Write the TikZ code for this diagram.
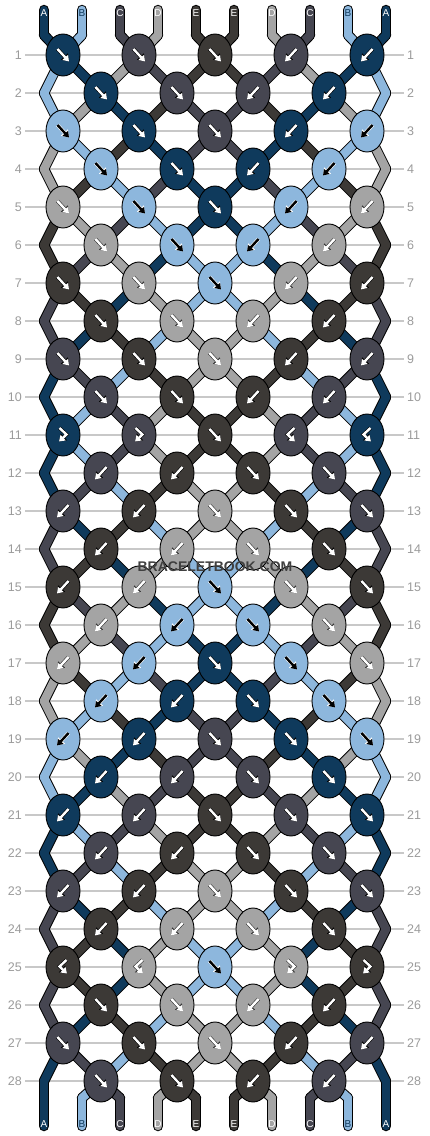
\documentclass[tikz,border=0pt]{standalone}
\usepackage{fontspec}
\setmainfont{Liberation Sans}
\usetikzlibrary{shapes.geometric,arrows.meta}

\definecolor{strA}{HTML}{0F3A5C}
\definecolor{strB}{HTML}{8DB7DD}
\definecolor{strC}{HTML}{464651}
\definecolor{strD}{HTML}{A4A4A4}
\definecolor{strE}{HTML}{3C3936}
\definecolor{numgrey}{HTML}{9B9B9B}
\definecolor{linegrey}{HTML}{C8C8C8}
\definecolor{wmgrey}{HTML}{404040}
\colorlet{fgA}{white}\colorlet{bgA}{black}
\colorlet{fgB}{black}\colorlet{bgB}{white}
\colorlet{fgC}{white}\colorlet{bgC}{black}
\colorlet{fgD}{white}\colorlet{bgD}{black!80}
\colorlet{fgE}{white}\colorlet{bgE}{black}
\colorlet{tagA}{white}\colorlet{tagB}{strA}\colorlet{tagC}{white}
\colorlet{tagD}{white}\colorlet{tagE}{white}

\pgfdeclarelayer{grid}
\pgfdeclarelayer{strands}
\pgfsetlayers{grid,strands,main}

% strand colours after each row (row 0 = start)
\def\strandrows{%
  {A,B,C,D,E,E,D,C,B,A},%
  {B,A,D,C,E,E,C,D,A,B},%
  {B,D,A,E,C,C,E,A,D,B},%
  {D,B,E,A,C,C,A,E,B,D},%
  {D,E,B,C,A,A,C,B,E,D},%
  {E,D,C,B,A,A,B,C,D,E},%
  {E,C,D,A,B,B,A,D,C,E},%
  {C,E,A,D,B,B,D,A,E,C},%
  {C,A,E,B,D,D,B,E,A,C},%
  {A,C,B,E,D,D,E,B,C,A},%
  {A,B,C,D,E,E,D,C,B,A},%
  {A,B,C,D,E,E,D,C,B,A},%
  {A,C,B,E,D,D,E,B,C,A},%
  {C,A,E,B,D,D,B,E,A,C},%
  {C,E,A,D,B,B,D,A,E,C},%
  {E,C,D,A,B,B,A,D,C,E},%
  {E,D,C,B,A,A,B,C,D,E},%
  {D,E,B,C,A,A,C,B,E,D},%
  {D,B,E,A,C,C,A,E,B,D},%
  {B,D,A,E,C,C,E,A,D,B},%
  {B,A,D,C,E,E,C,D,A,B},%
  {A,B,C,D,E,E,D,C,B,A},%
  {A,C,B,E,D,D,E,B,C,A},%
  {C,A,E,B,D,D,B,E,A,C},%
  {C,E,A,D,B,B,D,A,E,C},%
  {C,E,A,D,B,B,D,A,E,C},%
  {C,A,E,B,D,D,B,E,A,C},%
  {A,C,B,E,D,D,E,B,C,A},%
  {A,B,C,D,E,E,D,C,B,A}}

% knot colour / knot type per row
\def\knotrows{%
  {A/f,C/f,E/f,C/b,A/b},%
  {A/f,C/f,C/b,A/b},%
  {B/f,A/f,C/f,A/b,B/b},%
  {B/f,A/f,A/b,B/b},%
  {D/f,B/f,A/f,B/b,D/b},%
  {D/f,B/f,B/b,D/b},%
  {E/f,D/f,B/f,D/b,E/b},%
  {E/f,D/f,D/b,E/b},%
  {C/f,E/f,D/f,E/b,C/b},%
  {C/f,E/f,E/b,C/b},%
  {A/fb,C/fb,E/f,C/bf,A/bf},%
  {C/b,E/b,E/f,C/f},%
  {C/b,E/b,D/f,E/f,C/f},%
  {E/b,D/b,D/f,E/f},%
  {E/b,D/b,B/f,D/f,E/f},%
  {D/b,B/b,B/f,D/f},%
  {D/b,B/b,A/f,B/f,D/f},%
  {B/b,A/b,A/f,B/f},%
  {B/b,A/b,C/f,A/f,B/f},%
  {A/b,C/b,C/f,A/f},%
  {A/b,C/b,E/f,C/f,A/f},%
  {C/b,E/b,E/f,C/f},%
  {C/b,E/b,D/f,E/f,C/f},%
  {E/b,D/b,D/f,E/f},%
  {E/bf,D/bf,B/f,D/fb,E/fb},%
  {E/f,D/f,D/b,E/b},%
  {C/f,E/f,D/f,E/b,C/b},%
  {C/f,E/f,E/b,C/b}}

\newcommand\strandpass[1]{%
  \foreach \c [count=\p from 0] in {A,B,C,D,E,E,D,C,B,A} {
    \draw[#1=\c] (top-\p) -- (k-0-\p.center);
    \draw[#1=\c] (k-29-\p.center) -- (bot-\p);
  }
  \foreach \st [count=\r from 0] in \strandrows {
    \pgfmathtruncatemacro\rr{\r+1}
    \foreach \c [count=\p from 0] in \st {
      \pgfmathtruncatemacro\ia{ifthenelse(\r==0,\p,ifthenelse(mod(\r,2)==1,floor(\p/2),floor((\p+1)/2)))}
      \pgfmathtruncatemacro\ib{ifthenelse(\rr==29,\p,ifthenelse(mod(\rr,2)==1,floor(\p/2),floor((\p+1)/2)))}
      \draw[#1=\c] (k-\r-\ia.center) -- (k-\rr-\ib.center);
    }
  }%
}

\begin{document}
\begin{tikzpicture}[x=1pt,y=-1pt,
  knot/.style={ellipse,draw=black,line width=0.9pt,fill=str#1,
    minimum width=34pt,minimum height=42pt,inner sep=0pt},
  strandline/.style={draw=black,line width=10.5pt,line cap=round},
  strandfill/.style={draw=str#1,line width=8.5pt,line cap=round},
  rowno/.style={text=numgrey,font=\fontsize{12.5}{14}\selectfont,inner sep=3pt},
  gridline/.style={draw=linegrey,line width=1.2pt},
  tag/.style={text=tag#1,font=\fontsize{10}{11}\selectfont,inner sep=0pt},
  wmark/.style={text=wmgrey,font=\bfseries\fontsize{14}{16}\selectfont},
  arrowtip/.style={-{Triangle[length=3.2pt 1,width=3.6pt 1.5]}},
  arrowback/.style={arrowtip,draw=arrbg,line width=3.6pt},
  arrowfront/.style={arrowtip,draw=arrfg,line width=2.4pt},
  pics/arrf/.style={code={
    \draw[arrowback] (-5.5,-6) -- (6,6.5);
    \draw[arrowfront] (-5.5,-6) -- (6,6.5);}},
  pics/arrb/.style={code={
    \draw[arrowback] (5.5,-6) -- (-6,6.5);
    \draw[arrowfront] (5.5,-6) -- (-6,6.5);}},
  pics/arrfb/.style={code={
    \draw[arrowback] (-3.5,-7) -- (3.5,-0.5) -- (-4,6.5);
    \draw[arrowfront] (-3.5,-7) -- (3.5,-0.5) -- (-4,6.5);}},
  pics/arrbf/.style={code={
    \draw[arrowback] (3.5,-7) -- (-3.5,-0.5) -- (4,6.5);
    \draw[arrowfront] (3.5,-7) -- (-3.5,-0.5) -- (4,6.5);}}]

\useasboundingbox (0,0) rectangle (430,1136);

%% strand ends and edge turns
\foreach \p in {0,...,9} {
  \coordinate (top-\p) at ({44+38*\p},10);
  \coordinate (k-0-\p) at ({44+38*\p},35);
  \coordinate (k-29-\p) at ({44+38*\p},1098);
  \coordinate (bot-\p) at ({44+38*\p},1126);
}
\foreach \r in {2,4,...,28} {
  \coordinate (k-\r-0) at (44,{17+38*\r});
  \coordinate (k-\r-5) at (386,{17+38*\r});
}

%% knots
\foreach \kr [count=\r] in \knotrows {
  \pgfmathsetmacro\ky{17+38*\r}
  \foreach \kc/\kt [count=\i from 0] in \kr {
    \pgfmathsetmacro\kx{63+76*\i+38*(1-mod(\r,2))}
    \pgfmathtruncatemacro\j{\i+1-mod(\r,2)}
    \colorlet{arrfg}{fg\kc}\colorlet{arrbg}{bg\kc}
    \node[knot=\kc] (k-\r-\j) at (\kx,\ky) {};
    \pic at (k-\r-\j) {arr\kt};
  }
}

%% row numbers
\foreach \r in {1,...,28} {
  \node[rowno,anchor=east] (nl-\r) at (25,{17+38*\r}) {\r};
  \node[rowno,anchor=west] (nr-\r) at (404,{17+38*\r}) {\r};
}

%% string letters
\foreach \c [count=\p from 0] in {A,B,C,D,E,E,D,C,B,A} {
  \node[tag=\c] (tagt-\p) at ({44+38*\p},13) {\c};
  \node[tag=\c] (tagb-\p) at ({44+38*\p},1124) {\c};
}

\begin{pgfonlayer}{grid}
  \fill[white] (0,0) rectangle (430,1136);
  \foreach \r in {1,...,28}
    \draw[gridline] (nl-\r) -- (nr-\r);
\end{pgfonlayer}

\begin{pgfonlayer}{strands}
  \strandpass{strandline}
  \strandpass{strandfill}
\end{pgfonlayer}

\node[wmark] (wm) at (215,567) {BRACELETBOOK.COM};

\end{tikzpicture}
\end{document}
